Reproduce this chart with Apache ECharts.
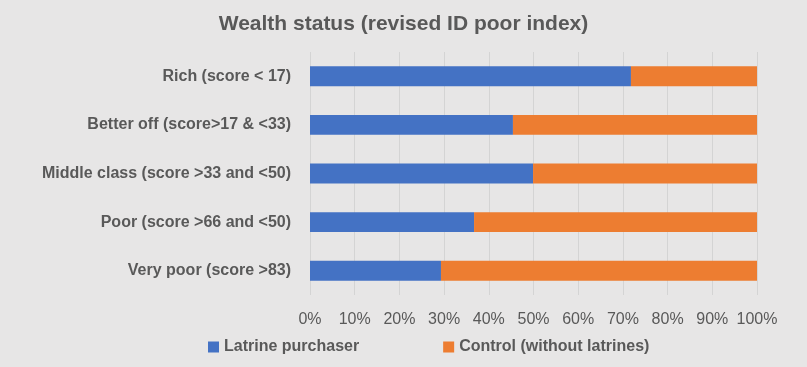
<!DOCTYPE html>
<html><head><meta charset="utf-8">
<script src="https://cdn.jsdelivr.net/npm/echarts@6/dist/echarts.min.js"></script>
<style>html,body{margin:0;padding:0;background:#e7e6e6;}#c{width:807px;height:367px;}</style>
</head><body><div id="c"></div>
<script>
const categories = ["Rich (score < 17)", "Better off (score>17 & <33)", "Middle class (score >33 and <50)", "Poor (score >66 and <50)", "Very poor (score >83)"];
const latrinePurchaser = [71.8, 45.4, 49.9, 36.7, 29.3];
const controlGroup = [28.2, 54.6, 50.1, 63.3, 70.7];
const seriesNames = ["Latrine purchaser", "Control (without latrines)"];
const FONT = "'Liberation Sans', sans-serif";
const chart = echarts.init(document.getElementById('c'), null, {renderer: 'canvas'});
chart.setOption({
  backgroundColor: '#e7e6e6',
  animation: false,
  title: {text: 'Wealth status (revised ID poor index)', left: 'center', top: 9,
    textStyle: {fontFamily: FONT, fontSize: 21, fontWeight: 'bold', color: '#595959'}},
  legend: {top: 334, left: 203, itemWidth: 11, itemHeight: 11, itemGap: 84, icon: 'rect',
    textStyle: {fontFamily: FONT, fontSize: 16, fontWeight: 'bold', color: '#595959'},
    data: seriesNames},
  grid: {left: 310, right: 50, top: 52, bottom: 72},
  xAxis: {type: 'value', min: 0, max: 100, interval: 10,
    axisLabel: {formatter: '{value}%', fontFamily: FONT, fontSize: 16, color: '#595959', margin: 17},
    splitLine: {lineStyle: {color: '#d4d4d4', width: 1}},
    axisLine: {show: false}, axisTick: {show: false}},
  yAxis: {type: 'category', data: categories, inverse: true,
    axisLabel: {fontFamily: FONT, fontSize: 16, fontWeight: 'bold', color: '#595959', margin: 19},
    axisLine: {show: false}, axisTick: {show: false}},
  series: [
    {name: seriesNames[0], type: 'bar', stack: 'a', data: latrinePurchaser, barCategoryGap: '59%', itemStyle: {color: '#4472c4'}},
    {name: seriesNames[1], type: 'bar', stack: 'a', data: controlGroup, barCategoryGap: '59%', itemStyle: {color: '#ed7d31'}}
  ]
});
</script></body></html>
